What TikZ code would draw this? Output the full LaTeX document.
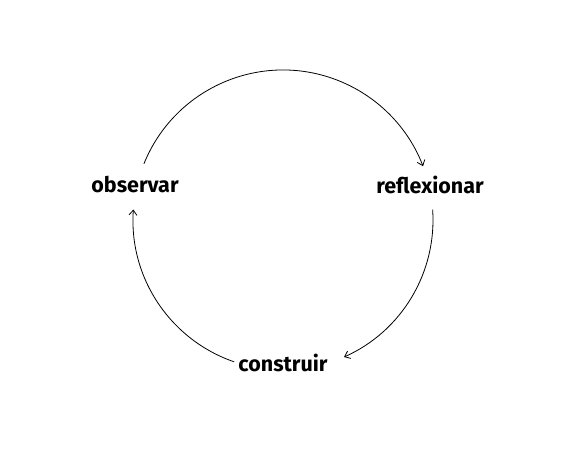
\documentclass[tikz,border=0pt]{standalone}
\usepackage{fontspec}
\setmainfont{Fira Sans}
\usetikzlibrary{arrows.meta}

\begin{document}
\begin{tikzpicture}[
    x=1pt, y=1pt,
    phase/.style={font=\bfseries\fontsize{21.5}{25}\selectfont, inner sep=2pt},
    arrow/.style={-{Straight Barb[length=5pt, width=8pt]}, thick}
]
    \useasboundingbox (0,0) rectangle (575,452);
    \coordinate (centre) at (283,232);

    % Phases of the cycle
    \node[phase] (observar) at (135,267) {observar};
    \node[phase] (reflexionar) at (430,267) {reflexionar};
    \node[phase] (construir) at (283,89) {construir};

    % Arcs
    \draw[arrow] (centre) ++(158:150) arc[start angle=158, end angle=21, radius=150];
    \draw[arrow] (centre) ++(4:150) arc[start angle=4, end angle=-66, radius=150];
    \draw[arrow] (centre) ++(251:150) arc[start angle=251, end angle=176, radius=150];
\end{tikzpicture}
\end{document}
